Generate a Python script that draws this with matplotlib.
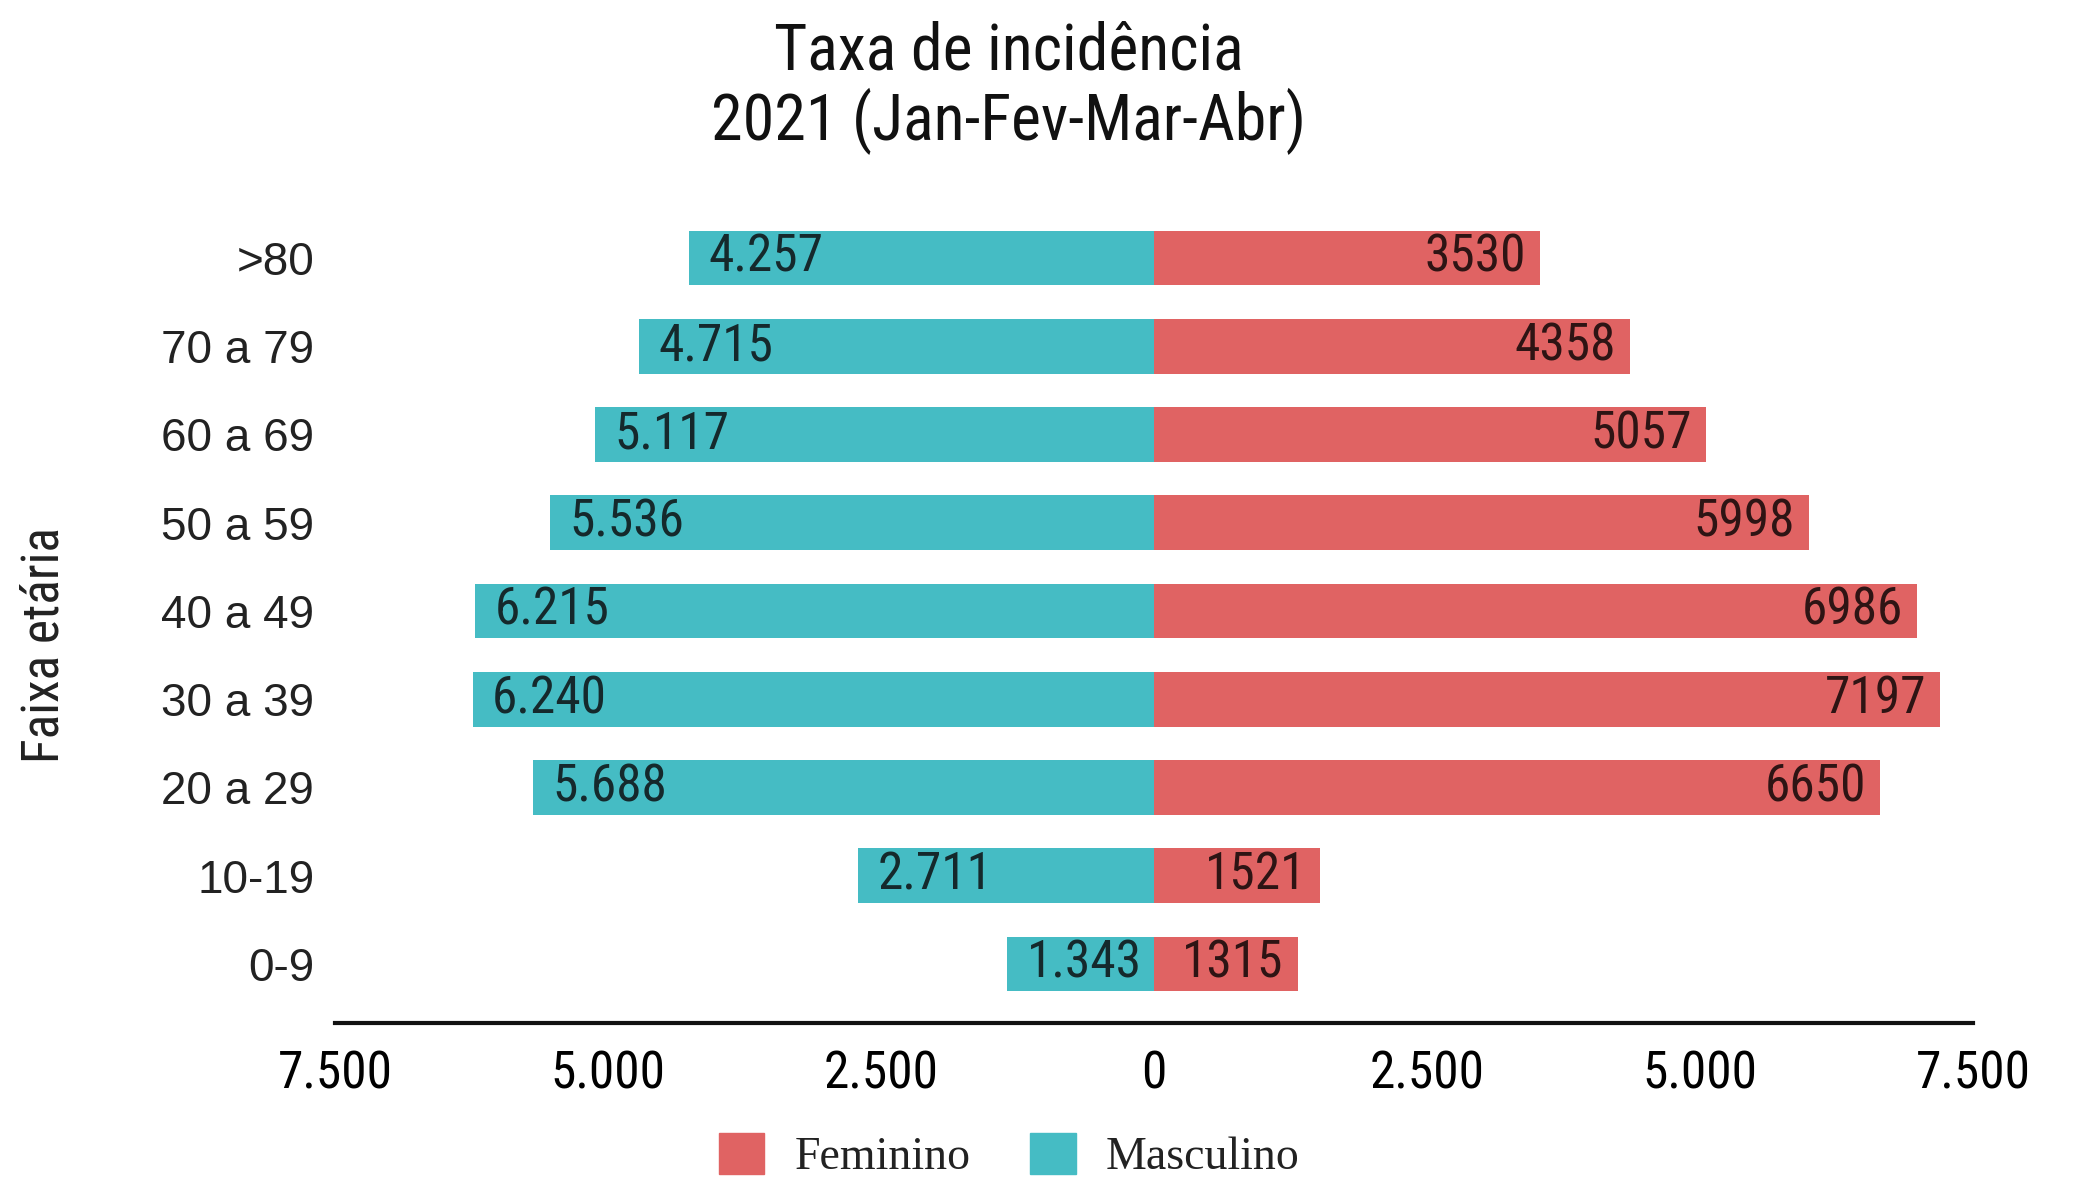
import matplotlib
matplotlib.use("Agg")
import matplotlib.pyplot as plt
from matplotlib.patches import Patch

# age groups, bottom to top
age_groups = ['0-9', '10-19', '20 a 29', '30 a 39', '40 a 49',
              '50 a 59', '60 a 69', '70 a 79', '>80']
masculino = [1343, 2711, 5688, 6240, 6215, 5536, 5117, 4715, 4257]
feminino = [1315, 1521, 6650, 7197, 6986, 5998, 5057, 4358, 3530]
x_ticks = [-7500, -5000, -2500, 0, 2500, 5000, 7500]

teal = '#45bcc4'
red = '#e06363'

# condensed face if one is around, otherwise the next in line
narrow = ['Roboto Condensed', 'Liberation Sans Narrow', 'DejaVu Sans Condensed',
          'Noto Sans Condensed', 'Noto Sans']
nkw = dict(family=narrow, stretch='condensed')


def fmt_pt(v):
    return f"{abs(v):,.0f}".replace(',', '.')


fig = plt.figure(figsize=(20.76, 11.77), dpi=100)
ax = fig.add_axes([0.1614, 0.1308, 0.789, 0.695])

ypos = list(range(len(age_groups)))
ax.barh(ypos, [-m for m in masculino], height=0.62, color=teal)
ax.barh(ypos, feminino, height=0.62, color=red)

for y, m, f in zip(ypos, masculino, feminino):
    ax.annotate(fmt_pt(m), (-m, y), xytext=(14, 0), textcoords='offset points',
                ha='left', va='center', fontsize=37, color='#15292c', **nkw)
    ax.annotate(str(f), (f, y), xytext=(-10, 0), textcoords='offset points',
                ha='right', va='center', fontsize=37, color='#2e1414', **nkw)

ax.set_xlim(-7500, 7500)
ax.set_ylim(-0.67, 8.6)
ax.set_xticks(x_ticks)
ax.set_xticklabels([fmt_pt(v) for v in x_ticks], fontsize=37, **nkw)
ax.set_yticks(ypos)
ax.set_yticklabels(age_groups, fontsize=33, family='Liberation Sans', color='#222222')
ax.tick_params(axis='x', length=0, pad=19)
ax.tick_params(axis='y', length=0, pad=15)

for s in ['top', 'right', 'left']:
    ax.spines[s].set_visible(False)
ax.spines['bottom'].set_linewidth(3)
ax.spines['bottom'].set_color('#111111')

ax.set_ylabel('Faixa etária', fontsize=37, color='#222222', **nkw)
ax.yaxis.set_label_coords(-0.162, 0.462)

fig.text(0.486, 1 - 52 / 1177, 'Taxa de incidência', ha='center', va='center',
         fontsize=46, color='#111111', **nkw)
fig.text(0.486, 1 - 121 / 1177, '2021 (Jan-Fev-Mar-Abr)', ha='center', va='center',
         fontsize=46, color='#111111', **nkw)

handles = [Patch(color=red), Patch(color=teal)]
fig.legend(handles, ['Feminino', 'Masculino'], loc='center', bbox_to_anchor=(0.486, 0.018),
           ncol=2, frameon=False, prop={'family': 'Liberation Serif', 'size': 33},
           handlelength=1.0, handleheight=1.0, handletextpad=0.65, columnspacing=1.3,
           labelcolor='#222222', borderpad=0.1)

fig.savefig('out.png', dpi=100)
